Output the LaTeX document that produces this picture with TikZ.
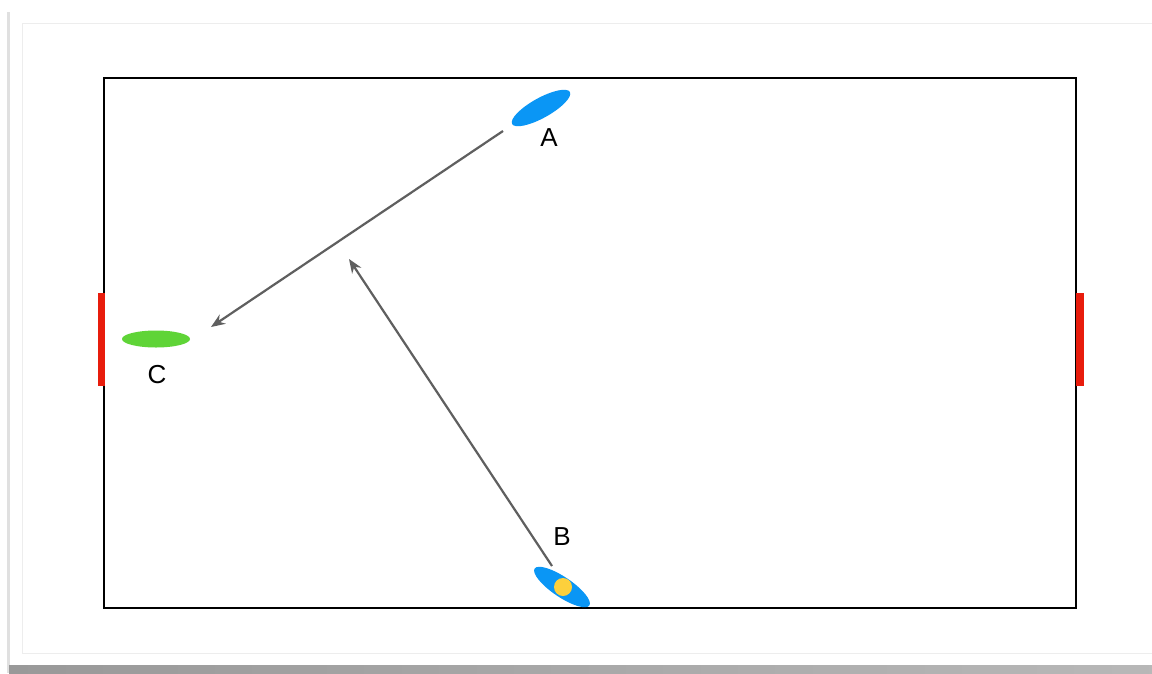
\documentclass[tikz,border=0pt]{standalone}
\usepackage{fontspec}
\setmainfont{Liberation Sans}
\usepackage{tikz}
\usetikzlibrary{arrows.meta,calc,positioning,shapes.geometric}
\definecolor{plblue}{RGB}{10,150,245}
\definecolor{plgreen}{RGB}{95,212,55}
\definecolor{goalred}{RGB}{232,28,12}
\definecolor{ballyel}{RGB}{252,208,60}
\definecolor{passgray}{RGB}{95,95,95}
\tikzset{
  player/.style={ellipse,inner sep=0pt,minimum width=66pt,minimum height=20pt},
  tag/.style={font=\fontsize{26}{26}\selectfont,inner sep=0pt},
  pass/.style={-{Stealth[length=14pt,width=11pt]},passgray,line width=2.2pt}
}
\begin{document}
\begin{tikzpicture}[x=1pt,y=-1pt]
  \useasboundingbox (0,0) rectangle (1152,673);
  % card with shadow
  \fill[black!12] (7,12) rectangle (1152,673);
  \shade[left color=black!40,right color=black!28] (9,665) rectangle (1152,673);
  \fill[white] (10,10) rectangle (1152,665);
  \draw[black!7,line width=1pt] (22,23) rectangle (1160,653);
  % field and goals
  \draw[line width=2pt] (104,78) rectangle (1076,608);
  \fill[goalred] (98,293) rectangle (105,386);
  \fill[goalred] (1076,293) rectangle (1084,386);
  % players
  \node[player,fill=plblue,rotate=29] (pA) at (541,108) {};
  \node[tag] (lA) at (549,138) {A};
  \node[player,fill=plblue,rotate=-34] (pB) at (562,587) {};
  \fill[ballyel] (563,587) circle (9pt);
  \node[tag] (lB) at (562,537) {B};
  \node[player,fill=plgreen,minimum width=68pt,minimum height=17pt] (pC) at (156,339) {};
  \node[tag] (lC) at (157,375) {C};
  % passes
  \coordinate (sA) at (503,131);
  \coordinate (eA) at (211,327);
  \coordinate (sB) at (552,566);
  \coordinate (eB) at (349,259);
  \draw[pass] (sA) -- (eA);
  \draw[pass] (sB) -- (eB);
\end{tikzpicture}
\end{document}
